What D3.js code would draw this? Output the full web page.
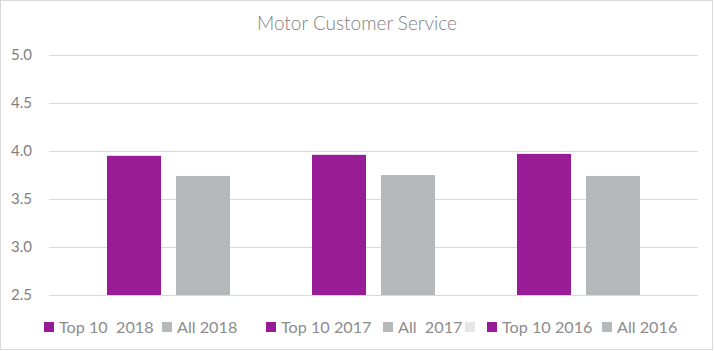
<!DOCTYPE html>
<html>
<head>
<meta charset="utf-8">
<script src="https://cdn.jsdelivr.net/npm/d3@7"></script>
<style>
  body { margin: 0; background: #fff; }
  text { font-family: Lato, "Open Sans", sans-serif; }
</style>
</head>
<body>
<div id="vis"></div>
<script>
// data
const categories = ["2018", "2017", "2016"];
const top10Values = [3.95, 3.96, 3.97];
const allValues = [3.74, 3.75, 3.74];
const yTicks = [2.5, 3.0, 3.5, 4.0, 4.5, 5.0];
const legendLabels = ["Top 10  2018", "All 2018", "Top 10 2017", "All  2017", "", "Top 10 2016", "All 2016"];
const legendKinds = ["top", "all", "top", "all", "blank", "top", "all"];

const layout = {
    width: 714,
    height: 351,
    plotLeft: 49,
    plotRight: 698,
    plotTop: 55,
    plotBottom: 295
};
// legend item x positions (Excel spaced them unevenly)
const legendX = [44, 162, 266, 383, 465, 487, 602];

const colors = { top: "#981c95", all: "#b6b9bc", blank: "#e7e7ea" };

let svg = d3.select("#vis").append("svg")
    .attr("width", layout.width)
    .attr("height", layout.height)
    .attr("viewBox", [0, 0, layout.width, layout.height].join(" "));

// chart border
svg.append("rect")
    .attr("x", 0.5).attr("y", 0.5)
    .attr("width", layout.width - 2).attr("height", layout.height - 2)
    .attr("fill", "#fff")
    .attr("stroke", "#d9d9d9");

// title
svg.append("text")
    .attr("x", layout.width / 2)
    .attr("y", 30)
    .attr("text-anchor", "middle")
    .attr("font-size", 19)
    .attr("font-weight", 300)
    .attr("fill", "#7f7f7f")
    .text("Motor Customer Service");

// scales
let yScale = d3.scaleLinear()
    .domain([2.5, 5.0])
    .range([layout.plotBottom, layout.plotTop]);

let x0 = d3.scaleBand()
    .domain(categories)
    .range([layout.plotLeft, layout.plotRight])
    .paddingInner(0)
    .paddingOuter(0.083);

let x1 = d3.scaleBand()
    .domain(["top", "all"])
    .range([0, x0.bandwidth()])
    .paddingInner(0.217)
    .paddingOuter(0.594);

// gridlines + y axis labels
let yAxis = svg.append("g")
    .attr("transform", `translate(${layout.plotLeft},0)`)
    .call(d3.axisLeft(yScale)
        .tickValues(yTicks)
        .tickFormat(d3.format(".1f"))
        .tickSize(-(layout.plotRight - layout.plotLeft))
        .tickPadding(17));
yAxis.select(".domain").remove();
yAxis.selectAll("line").attr("stroke", "#d9d9d9").attr("stroke-width", 1);
yAxis.selectAll("text")
    .attr("fill", "#808080")
    .attr("font-size", 15)
    .style("font-family", "Lato, sans-serif");

// bars
let rows = categories.map((c, i) => ({ cat: c, top: top10Values[i], all: allValues[i] }));
let groups = svg.append("g").attr("id", "marks")
    .selectAll("g")
    .data(rows)
    .join("g")
    .attr("transform", d => `translate(${x0(d.cat)},0)`);

groups.selectAll("rect")
    .data(d => ["top", "all"].map(k => ({ key: k, value: d[k] })))
    .join("rect")
    .attr("x", d => x1(d.key))
    .attr("y", d => yScale(d.value))
    .attr("width", x1.bandwidth())
    .attr("height", d => yScale(2.5) - yScale(d.value))
    .attr("fill", d => colors[d.key]);

// legend
let legend = svg.append("g").attr("id", "legend");
legendLabels.forEach((label, i) => {
    let item = legend.append("g").attr("transform", `translate(${legendX[i]},0)`);
    item.append("rect")
        .attr("x", 0).attr("y", 322)
        .attr("width", 10).attr("height", 10)
        .attr("fill", colors[legendKinds[i]]);
    item.append("text")
        .attr("x", 15).attr("y", 333)
        .attr("font-size", 16.2)
        .attr("fill", "#8c8c8c")
        .style("white-space", "pre")
        .text(label);
});
</script>
</body>
</html>
